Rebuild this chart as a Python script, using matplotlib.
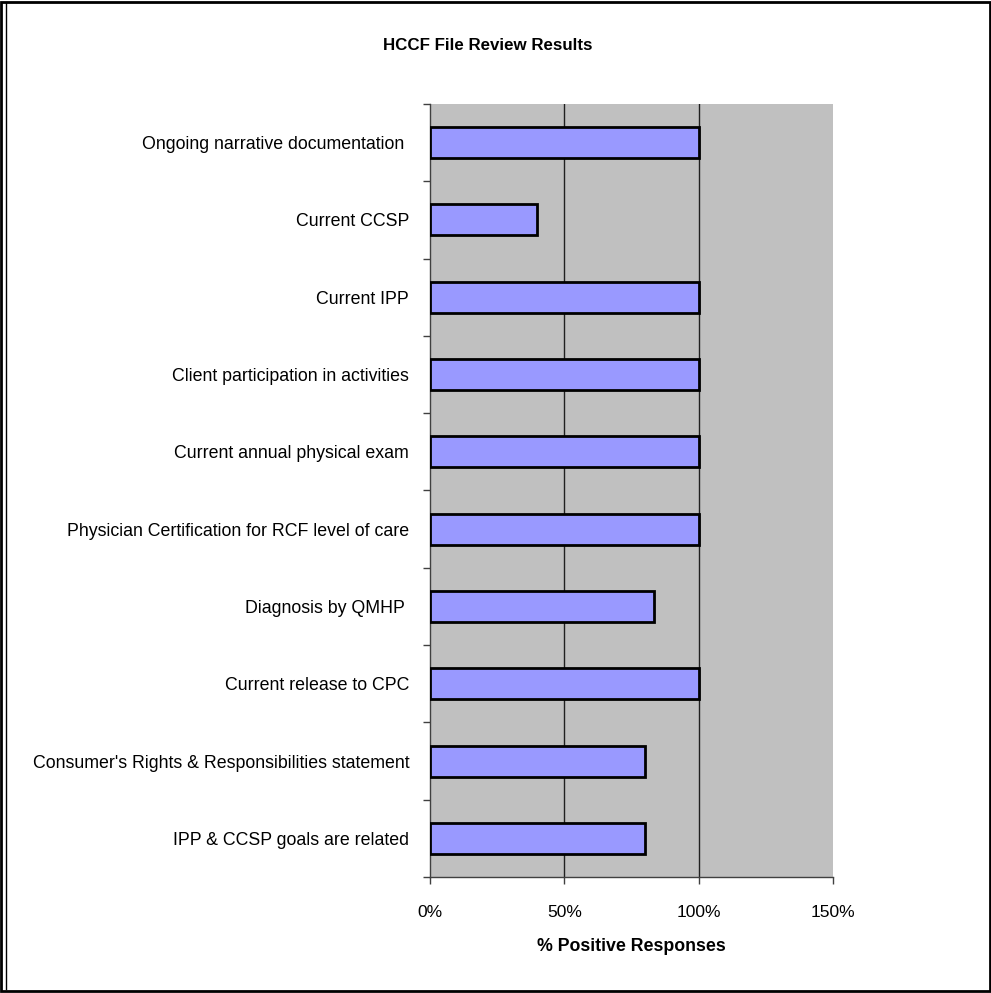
import numpy as np
import matplotlib
matplotlib.use('Agg')
import matplotlib.pyplot as plt
from matplotlib.ticker import FixedLocator, PercentFormatter

plt.rcParams['font.family'] = ['Liberation Sans', 'DejaVu Sans']

# categories, top to bottom as shown
items = ['Ongoing narrative documentation ',
         'Current CCSP',
         'Current IPP',
         'Client participation in activities',
         'Current annual physical exam',
         'Physician Certification for RCF level of care',
         'Diagnosis by QMHP ',
         'Current release to CPC',
         "Consumer's Rights & Responsibilities statement",
         'IPP & CCSP goals are related']
pct_positive = [100, 40, 100, 100, 100, 100, 83.3, 100, 80, 80]
x_ticks = [0, 50, 100, 150]

fig = plt.figure(figsize=(9.91, 9.93), dpi=100)
ax = fig.add_axes([0.4339, 0.1168, 0.4067, 0.7785])
ax.set_facecolor('#c0c0c0')

n = len(items)
ypos = np.arange(n)[::-1]
ax.barh(ypos, pct_positive, height=0.4, color='#9999ff',
        edgecolor='black', linewidth=2, zorder=3)

ax.set_xlim(0, 150)
ax.set_ylim(-0.5, n - 0.5)

# gridlines
for g in x_ticks[1:3]:
    ax.axvline(g, color='#202020', linewidth=1, zorder=1)

ax.set_xticks(x_ticks)
ax.xaxis.set_major_formatter(PercentFormatter(decimals=0))
ax.tick_params(axis='x', direction='out', length=5, width=1,
               color='#404040', labelsize=12.5, pad=15)

ax.set_yticks(ypos)
ax.set_yticklabels(items)
ax.yaxis.set_minor_locator(FixedLocator(np.arange(n + 1) - 0.5))
ax.tick_params(axis='y', which='major', length=0, labelsize=12.8, pad=15)
ax.tick_params(axis='y', which='minor', direction='out', length=5,
               width=1, color='#404040')

for s in ['top', 'right']:
    ax.spines[s].set_visible(False)
for s in ['left', 'bottom']:
    ax.spines[s].set_color('#404040')
    ax.spines[s].set_linewidth(1)

ax.set_xlabel('% Positive Responses', fontsize=12.8, fontweight='bold',
              labelpad=13)
fig.text(0.492, 0.954, 'HCCF File Review Results', ha='center', va='center',
         fontsize=12.2, fontweight='bold')

# outer border of the chart area
fig.patches.append(plt.Rectangle((0.001, 0.002), 0.998, 0.996,
                                 transform=fig.transFigure, fill=False,
                                 edgecolor='black', linewidth=2))
fig.lines.append(plt.Line2D([0.0065, 0.0065], [0.004, 0.997],
                            transform=fig.transFigure, color='black',
                            linewidth=1))

fig.savefig('out.png', dpi=100)
